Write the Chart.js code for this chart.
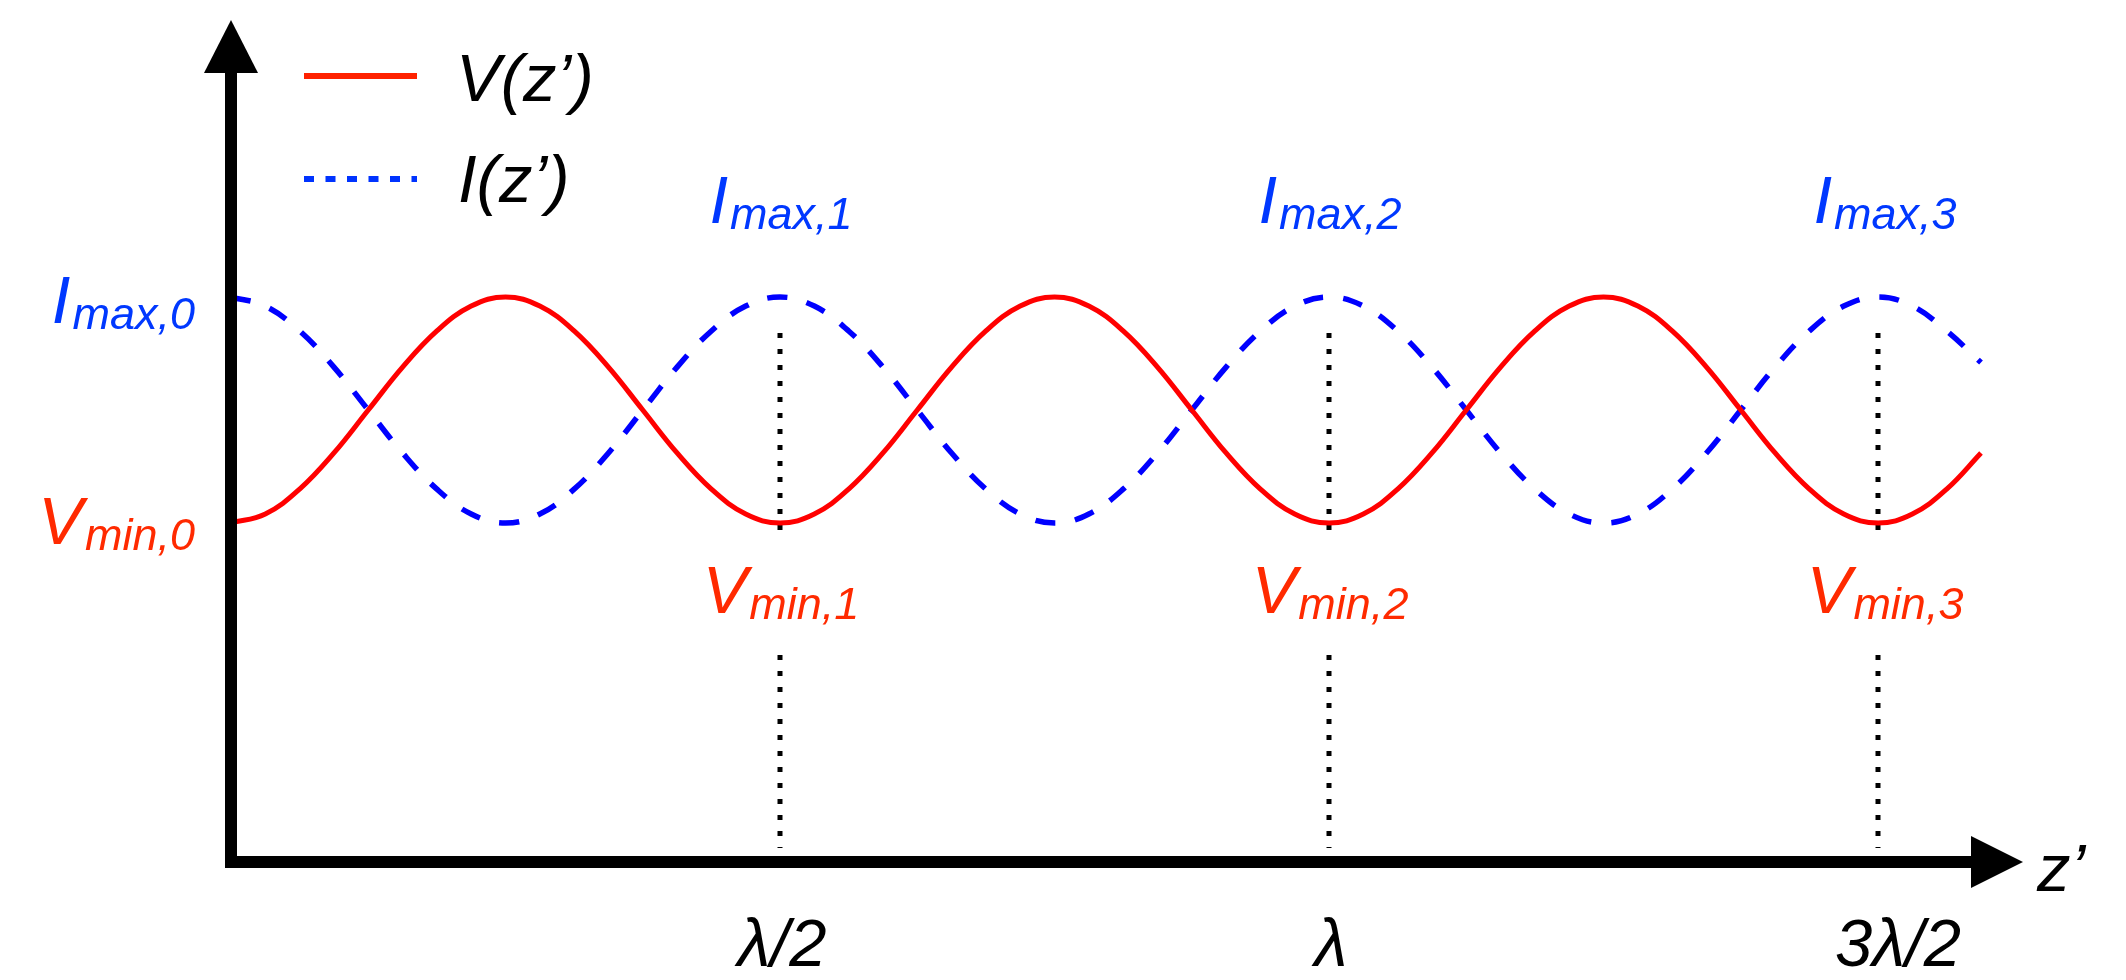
<!DOCTYPE html>
<html>
<head>
<meta charset="utf-8">
<script src="https://cdn.jsdelivr.net/npm/chart.js@4"></script>
<style>
  body { margin: 0; background: #fff; }
  #wrap { width: 2126px; height: 980px; }
</style>
</head>
<body>
<div id="wrap"><canvas id="wave"></canvas></div>
<script>
// position along the line z', in wavelengths
const zPos = [0, 0.03125, 0.0625, 0.09375, 0.125, 0.15625, 0.1875, 0.21875,
              0.25, 0.28125, 0.3125, 0.34375, 0.375, 0.40625, 0.4375, 0.46875,
              0.5, 0.53125, 0.5625, 0.59375, 0.625, 0.65625, 0.6875, 0.71875,
              0.75, 0.78125, 0.8125, 0.84375, 0.875, 0.90625, 0.9375, 0.96875,
              1, 1.03125, 1.0625, 1.09375, 1.125, 1.15625, 1.1875, 1.21875,
              1.25, 1.28125, 1.3125, 1.34375, 1.375, 1.40625, 1.4375, 1.46875,
              1.5, 1.53125, 1.5625, 1.59375];

// standing wave magnitudes
const vData = [1.5, 1.54, 1.65, 1.81, 2.0, 2.19, 2.35, 2.46,
               2.5, 2.46, 2.35, 2.19, 2.0, 1.81, 1.65, 1.54,
               1.5, 1.54, 1.65, 1.81, 2.0, 2.19, 2.35, 2.46,
               2.5, 2.46, 2.35, 2.19, 2.0, 1.81, 1.65, 1.54,
               1.5, 1.54, 1.65, 1.81, 2.0, 2.19, 2.35, 2.46,
               2.5, 2.46, 2.35, 2.19, 2.0, 1.81, 1.65, 1.54,
               1.5, 1.54, 1.65, 1.81];
const iData = [2.5, 2.46, 2.35, 2.19, 2.0, 1.81, 1.65, 1.54,
               1.5, 1.54, 1.65, 1.81, 2.0, 2.19, 2.35, 2.46,
               2.5, 2.46, 2.35, 2.19, 2.0, 1.81, 1.65, 1.54,
               1.5, 1.54, 1.65, 1.81, 2.0, 2.19, 2.35, 2.46,
               2.5, 2.46, 2.35, 2.19, 2.0, 1.81, 1.65, 1.54,
               1.5, 1.54, 1.65, 1.81, 2.0, 2.19, 2.35, 2.46,
               2.5, 2.46, 2.35, 2.21];

// V minima / I maxima positions and their labels
const markZ = [0, 0.5, 1, 1.5];
const markSub = ['0', '1', '2', '3'];
const tickText = ['', 'λ/2', 'λ', '3λ/2'];
const vMin = 1.5;
const iMax = 2.5;

const seriesNames = ['V(z’)', 'I(z’)'];

const FONT = "'Liberation Sans', Arial, sans-serif";
const RED_TXT = '#ff2a00';
const BLUE_TXT = '#0038ff';

function subLabel(ctx, main, sub, x, y, color, align) {
    ctx.font = 'italic 67px ' + FONT;
    const w1 = ctx.measureText(main).width;
    ctx.font = 'italic 45px ' + FONT;
    const w2 = ctx.measureText(sub).width;
    let x0 = x;
    if (align === 'center') x0 = x - (w1 + w2) / 2;
    if (align === 'right') x0 = x - (w1 + w2);
    ctx.fillStyle = color;
    ctx.textAlign = 'left';
    ctx.textBaseline = 'alphabetic';
    ctx.font = 'italic 67px ' + FONT;
    ctx.fillText(main, x0, y);
    ctx.font = 'italic 45px ' + FONT;
    ctx.fillText(sub, x0 + w1 + 2, y + 6);
}

// dotted guides at the V minima
const guides = {
    id: 'guides',
    beforeDatasetsDraw(chart) {
        const { ctx, scales: { x, y } } = chart;
        const top = y.getPixelForValue(iMax) + 36;
        const low = y.getPixelForValue(vMin);
        const base = y.getPixelForValue(0);
        ctx.save();
        ctx.strokeStyle = '#000';
        ctx.lineWidth = 5;
        ctx.setLineDash([5, 11]);
        markZ.slice(1).forEach(z => {
            const px = Math.round(x.getPixelForValue(z));
            ctx.beginPath();
            ctx.moveTo(px, top);
            ctx.lineTo(px, low + 8);
            ctx.moveTo(px, low + 132);
            ctx.lineTo(px, base - 14);
            ctx.stroke();
        });
        ctx.restore();
    }
};

// axes, arrows, labels and legend
const decor = {
    id: 'decor',
    afterDatasetsDraw(chart) {
        const { ctx, chartArea: a, scales: { x, y } } = chart;
        const x0 = x.getPixelForValue(0);
        const y0 = y.getPixelForValue(0);
        const yMaxPx = y.getPixelForValue(iMax);
        const yMinPx = y.getPixelForValue(vMin);
        ctx.save();

        // axes
        ctx.fillStyle = '#000';
        ctx.fillRect(x0 - 6, a.top + 52, 12, y0 + 6 - (a.top + 52));
        ctx.fillRect(x0 - 6, y0 - 6, a.right - 52 - (x0 - 6), 12);
        ctx.beginPath();
        ctx.moveTo(x0, a.top);
        ctx.lineTo(x0 - 27, a.top + 53);
        ctx.lineTo(x0 + 27, a.top + 53);
        ctx.closePath();
        ctx.fill();
        ctx.beginPath();
        ctx.moveTo(a.right, y0);
        ctx.lineTo(a.right - 52, y0 - 26);
        ctx.lineTo(a.right - 52, y0 + 26);
        ctx.closePath();
        ctx.fill();

        ctx.font = 'italic 67px ' + FONT;
        ctx.textBaseline = 'alphabetic';
        ctx.textAlign = 'left';
        ctx.fillText('z’', a.right + 14, y0 + 29);

        // tick labels under the axis
        ctx.textAlign = 'center';
        markZ.forEach((z, i) => {
            if (!tickText[i]) return;
            const shift = i === 3 ? 20 : 2;
            ctx.fillText(tickText[i], x.getPixelForValue(z) + shift, y0 + 104);
        });

        // extremum labels
        markZ.forEach((z, i) => {
            if (i === 0) {
                subLabel(ctx, 'I', 'max,' + markSub[i], x0 - 38, yMaxPx + 26, BLUE_TXT, 'right');
                subLabel(ctx, 'V', 'min,' + markSub[i], x0 - 38, yMinPx + 21, RED_TXT, 'right');
            } else {
                const px = x.getPixelForValue(z) + (i === 3 ? 6 : 0);
                subLabel(ctx, 'I', 'max,' + markSub[i], px, yMaxPx - 74, BLUE_TXT, 'center');
                subLabel(ctx, 'V', 'min,' + markSub[i], px, yMinPx + 90, RED_TXT, 'center');
            }
        });

        // legend
        ctx.lineWidth = 6;
        ctx.strokeStyle = '#ff2200';
        ctx.beginPath();
        ctx.moveTo(304, 76);
        ctx.lineTo(417, 76);
        ctx.stroke();
        ctx.strokeStyle = '#0033ff';
        ctx.setLineDash([10, 11.5]);
        ctx.beginPath();
        ctx.moveTo(304, 179);
        ctx.lineTo(417, 179);
        ctx.stroke();
        ctx.setLineDash([]);
        ctx.fillStyle = '#000';
        ctx.textAlign = 'left';
        ctx.font = 'italic 67px ' + FONT;
        ctx.fillText(seriesNames[0], 456, 101);
        ctx.fillText(seriesNames[1], 458, 202);

        ctx.restore();
    }
};

const config_wave = {
    type: 'line',
    data: {
        labels: zPos,
        datasets: [
            {
                label: seriesNames[0],
                data: zPos.map((z, i) => ({ x: z, y: vData[i] })),
                borderColor: '#ff0000',
                borderWidth: 5,
                tension: 0.4,
                pointRadius: 0,
                fill: false
            },
            {
                label: seriesNames[1],
                data: zPos.map((z, i) => ({ x: z, y: iData[i] })),
                borderColor: '#0000ff',
                borderWidth: 5.5,
                borderDash: [20, 20],
                tension: 0.4,
                pointRadius: 0,
                fill: false
            }
        ]
    },
    plugins: [guides, decor],
    options: {
        responsive: true,
        maintainAspectRatio: false,
        animation: false,
        events: [],
        layout: {
            padding: { left: 231, right: 103, top: 20, bottom: 118 }
        },
        scales: {
            x: { type: 'linear', min: 0, max: 1.632, display: false },
            y: { min: 0, max: 3.726, display: false }
        },
        plugins: {
            legend: { display: false },
            tooltip: { enabled: false }
        }
    }
};

new Chart(document.getElementById('wave'), config_wave);
</script>
</body>
</html>
